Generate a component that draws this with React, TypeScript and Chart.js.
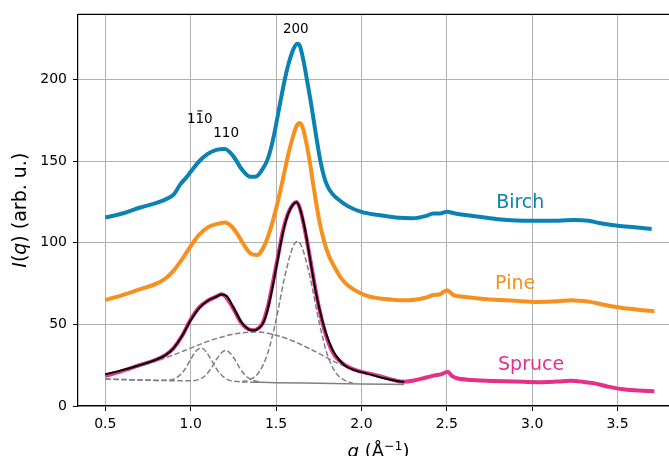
import { useEffect, useRef } from "react";
import { Chart, registerables } from "chart.js";

Chart.register(...registerables);

const FONT = "'DejaVu Sans', sans-serif";

const BIRCH_Q = [0.5, 0.6, 0.7, 0.8, 0.85, 0.9, 0.94, 0.97, 1.0, 1.05, 1.1, 1.15, 1.2, 1.25, 1.3, 1.35, 1.38, 1.42, 1.45, 1.47, 1.49, 1.51, 1.53, 1.55, 1.57, 1.59, 1.61, 1.625, 1.64, 1.66, 1.68, 1.7, 1.72, 1.74, 1.76, 1.78, 1.8, 1.83, 1.86, 1.92, 2.0, 2.1, 2.2, 2.3, 2.38, 2.42, 2.46, 2.5, 2.55, 2.65, 2.8, 3.0, 3.1, 3.25, 3.33, 3.4, 3.5, 3.6, 3.7];
const BIRCH_I = [115.5, 118, 121.5, 124.5, 126.5, 129.5, 136, 139.5, 143.5, 150, 154.5, 157, 157.5, 153, 145, 140.5, 140.5, 145, 151, 158, 167, 178, 189, 199.5, 208.5, 215.5, 220.5, 222, 220.5, 212, 200.5, 188.5, 175.5, 162, 150, 141, 135, 130, 127, 122.5, 119, 117, 115.5, 115, 116.5, 118, 118, 119, 118, 116.5, 114.5, 113.5, 113.5, 114, 113.5, 112, 110.5, 109.5, 108.5];

const PINE_Q = [0.5, 0.6, 0.7, 0.8, 0.85, 0.9, 0.95, 1.0, 1.05, 1.1, 1.15, 1.2, 1.23, 1.27, 1.31, 1.35, 1.39, 1.42, 1.45, 1.48, 1.51, 1.54, 1.57, 1.6, 1.62, 1.637, 1.655, 1.676, 1.7, 1.716, 1.735, 1.755, 1.784, 1.81, 1.843, 1.88, 1.92, 2.02, 2.1, 2.2, 2.245, 2.3, 2.38, 2.42, 2.46, 2.5, 2.54, 2.6, 2.735, 2.9, 3.03, 3.15, 3.225, 3.3, 3.34, 3.42, 3.52, 3.62, 3.716];
const PINE_I = [65, 68, 71.5, 75, 78, 83, 90, 98, 105, 109.5, 111.5, 112.5, 111, 106, 99, 93.5, 92.5, 96, 103, 113, 125, 139, 153.5, 165.5, 171.5, 173.4, 171, 162, 148, 137, 124.5, 112.5, 100, 92, 85, 78.5, 74, 68, 66, 65, 64.8, 65, 66.5, 68, 68.5, 71, 68, 67, 65.4, 64.5, 63.8, 64.2, 64.8, 64.3, 63.8, 62, 60.2, 59, 58.1];

const SPRUCE_Q = [0.5, 0.6, 0.7, 0.8, 0.85, 0.9, 0.95, 1.0, 1.05, 1.1, 1.15, 1.18, 1.2, 1.245, 1.3, 1.34, 1.37, 1.4, 1.42, 1.45, 1.48, 1.51, 1.54, 1.57, 1.6, 1.62, 1.64, 1.666, 1.7, 1.725, 1.75, 1.784, 1.81, 1.843, 1.88, 1.92, 1.98, 2.04, 2.1, 2.17, 2.245, 2.3, 2.38, 2.44, 2.47, 2.505, 2.53, 2.56, 2.65, 2.735, 2.9, 3.03, 3.15, 3.225, 3.3, 3.36, 3.44, 3.52, 3.62, 3.716];
const SPRUCE_I = [18.5, 21.5, 25, 28.5, 31, 35.5, 43, 53, 60.5, 64.5, 67, 68.5, 67.5, 60.6, 50.4, 47, 46.5, 48, 50.4, 60, 74.8, 91, 107.3, 118, 123.6, 125, 121, 109.3, 90, 74.8, 61, 46.3, 38, 31, 27, 24, 21.5, 20, 18.5, 16.5, 14.8, 15.5, 17.5, 19, 19.5, 21, 18.5, 17, 16, 15.4, 15, 14.6, 15, 15.4, 14.8, 14, 12, 10.4, 9.5, 9];

const FIT_Q = [0.5, 0.6, 0.7, 0.8, 0.85, 0.9, 0.95, 1.0, 1.05, 1.1, 1.15, 1.18, 1.21, 1.25, 1.3, 1.34, 1.37, 1.4, 1.43, 1.46, 1.5, 1.54, 1.57, 1.6, 1.62, 1.64, 1.67, 1.7, 1.73, 1.76, 1.79, 1.82, 1.85, 1.9, 1.96, 2.04, 2.12, 2.2, 2.25];
const FIT_I = [19.5, 22, 25, 28.5, 31, 35.5, 43, 52.5, 60, 64.5, 67, 68.3, 67.5, 60.5, 51, 47, 46.3, 47.8, 52, 63, 84, 106, 117.5, 123.5, 124.8, 121, 108, 89.5, 71.5, 57, 45.5, 37, 31, 25, 22, 19.7, 17.3, 15.5, 14.7];

const BROAD_Q = [0.5, 0.6, 0.7, 0.8, 0.9, 1.0, 1.1, 1.2, 1.3, 1.4, 1.5, 1.6, 1.7, 1.8, 1.84, 1.9, 2.0, 2.1, 2.2, 2.25];
const BROAD_I = [19.4, 21.5, 24.3, 27.6, 31.3, 35.5, 39.6, 42.8, 44.9, 45.3, 43.4, 39.8, 34.9, 29.5, 27.2, 24.5, 21, 18.5, 16.3, 15.6];

const PEAK1_Q = [0.5, 0.8, 0.88, 0.92, 0.96, 1.0, 1.03, 1.06, 1.09, 1.12, 1.16, 1.2, 1.24, 1.28, 1.4];
const PEAK1_I = [16.5, 15.7, 16, 17.5, 21.6, 28.6, 33.5, 35.6, 33.4, 28.4, 21.4, 17.2, 15.4, 14.9, 14.5];

const PEAK2_Q = [0.5, 0.9, 1.0, 1.04, 1.08, 1.12, 1.15, 1.18, 1.205, 1.23, 1.26, 1.29, 1.33, 1.37, 1.4];
const PEAK2_I = [16.5, 15.5, 15.4, 16, 18.1, 23.1, 28.4, 32.6, 34, 32.5, 28.2, 22.8, 17.8, 15.5, 14.9];

const PEAK3_Q = [1.3, 1.35, 1.4, 1.45, 1.5, 1.55, 1.6, 1.625, 1.65, 1.7, 1.75, 1.8, 1.85, 1.9, 1.95];
const PEAK3_I = [14.9, 16.3, 20.7, 32, 52.7, 78.8, 97.9, 100.8, 97.8, 78.6, 52.4, 31.6, 20.4, 15.9, 13.9];

const BASE_Q = [1.37, 1.5, 1.75, 2.0, 2.25];
const BASE_I = [14.6, 14.3, 13.9, 13.5, 13.2];

const X_TICKS = [0.5, 1.0, 1.5, 2.0, 2.5, 3.0, 3.5];
const Y_TICKS = [0, 50, 100, 150, 200];

const SERIES_NAMES = ["Birch", "Pine", "Spruce"];
const SERIES_COLORS = ["#0a83b4", "#f7901e", "#e5308a"];
const NAME_Q = [2.789, 2.783, 2.8];
const NAME_I = [121.5, 72, 22];

// Miller index labels; BAR_AT marks which character carries an overbar (-1 = none)
const PEAK_TEXT = ["200", "110", "110"];
const PEAK_BAR_AT = [-1, 1, -1];
const PEAK_TEXT_Q = [1.54, 0.978, 1.132];
const PEAK_TEXT_I = [228.6, 173.5, 164.8];

const pts = (qs: number[], is: number[]) => qs.map((q, i) => ({ x: q, y: is[i] }));

type Run = { t: string; font: string; dy?: number };

function drawRuns(ctx: CanvasRenderingContext2D, runs: Run[], cx: number, y: number) {
  let total = 0;
  const widths = runs.map((r) => {
    ctx.font = r.font;
    const w = ctx.measureText(r.t).width;
    total += w;
    return w;
  });
  let x = cx - total / 2;
  ctx.textAlign = "left";
  ctx.textBaseline = "alphabetic";
  runs.forEach((r, i) => {
    ctx.font = r.font;
    ctx.fillText(r.t, x, y + (r.dy || 0));
    x += widths[i];
  });
}

const textPlugin = {
  id: "texts",
  afterDraw(chart: any) {
    const { ctx, chartArea: a, scales } = chart;
    const xs = scales.x;
    const ys = scales.y;
    ctx.save();
    ctx.strokeStyle = "#000";
    ctx.lineWidth = 1.25;
    ctx.beginPath();
    ctx.moveTo(a.left, a.top);
    ctx.lineTo(a.right, a.top);
    ctx.stroke();

    ctx.fillStyle = "#000";
    const n = `18px ${FONT}`;
    const it = `italic 18px ${FONT}`;
    drawRuns(
      ctx,
      [
        { t: "q", font: it },
        { t: " (Å", font: n },
        { t: "\u22121", font: `12.5px ${FONT}`, dy: -7 },
        { t: ")", font: n },
      ],
      (a.left + a.right) / 2,
      457
    );
    const ny = `19px ${FONT}`;
    const iy = `italic 19px ${FONT}`;
    ctx.save();
    ctx.translate(26, (a.top + a.bottom) / 2);
    ctx.rotate(-Math.PI / 2);
    drawRuns(
      ctx,
      [
        { t: "I", font: iy },
        { t: "(", font: ny },
        { t: "q", font: iy },
        { t: ") (arb. u.)", font: ny },
      ],
      0,
      0
    );
    ctx.restore();

    ctx.textAlign = "left";
    ctx.textBaseline = "alphabetic";
    SERIES_NAMES.forEach((name, i) => {
      ctx.font = `19px ${FONT}`;
      ctx.fillStyle = SERIES_COLORS[i];
      ctx.fillText(name, xs.getPixelForValue(NAME_Q[i]), ys.getPixelForValue(NAME_I[i]));
    });
    ctx.fillStyle = "#000";
    ctx.strokeStyle = "#000";
    PEAK_TEXT.forEach((t, i) => {
      ctx.font = `13.5px ${FONT}`;
      const px = xs.getPixelForValue(PEAK_TEXT_Q[i]);
      const py = ys.getPixelForValue(PEAK_TEXT_I[i]);
      ctx.fillText(t, px, py);
      const b = PEAK_BAR_AT[i];
      if (b >= 0) {
        const x0 = px + ctx.measureText(t.slice(0, b)).width;
        const w = ctx.measureText(t[b]).width;
        ctx.lineWidth = 1.1;
        ctx.beginPath();
        ctx.moveTo(x0 + w * 0.22, py - 12);
        ctx.lineTo(x0 + w * 0.8, py - 12);
        ctx.stroke();
      }
    });
    ctx.restore();
  },
};

export default function App() {
  const ref = useRef<HTMLCanvasElement>(null);
  useEffect(() => {
    if (!ref.current) return;
    const dashed = (qs: number[], is: number[]) => ({
      data: pts(qs, is),
      borderColor: "#808080",
      borderWidth: 1.5,
      borderDash: [5.5, 2.5],
      pointRadius: 0,
      fill: false,
      cubicInterpolationMode: "monotone" as const,
      order: 1,
    });
    const curve = (qs: number[], is: number[], color: string, w: number, order: number) => ({
      data: pts(qs, is),
      borderColor: color,
      borderWidth: w,
      pointRadius: 0,
      fill: false,
      cubicInterpolationMode: "monotone" as const,
      order,
    });
    const grid = {
      color: "#b0b0b0",
      lineWidth: 1,
      tickColor: "#000",
      tickLength: 5,
      tickWidth: 1,
    };
    const chart = new Chart(ref.current, {
      type: "line",
      data: {
        datasets: [
          curve(FIT_Q, FIT_I, "#000", 2, 0),
          dashed(BROAD_Q, BROAD_I),
          dashed(PEAK1_Q, PEAK1_I),
          dashed(PEAK2_Q, PEAK2_I),
          dashed(PEAK3_Q, PEAK3_I),
          curve(BASE_Q, BASE_I, "#808080", 1.5, 2),
          curve(SPRUCE_Q, SPRUCE_I, SERIES_COLORS[2], 4, 3),
          curve(PINE_Q, PINE_I, SERIES_COLORS[1], 4, 4),
          curve(BIRCH_Q, BIRCH_I, SERIES_COLORS[0], 4, 5),
        ] as any,
      },
      options: {
        animation: false,
        responsive: false,
        devicePixelRatio: 1,
        layout: { padding: { left: 0, top: 13, right: 11, bottom: 0 } },
        plugins: { legend: { display: false }, tooltip: { enabled: false } },
        scales: {
          x: {
            type: "linear",
            min: 0.34,
            max: 3.86,
            afterBuildTicks: (s: any) => {
              s.ticks = X_TICKS.map((v) => ({ value: v }));
            },
            afterFit: (s: any) => {
              s.height = 64;
            },
            ticks: {
              callback: (v: any) => Number(v).toFixed(1),
              font: { family: FONT, size: 14 },
              color: "#000",
              padding: 5,
              maxRotation: 0,
              autoSkip: false,
            },
            grid,
            border: { color: "#000", width: 1.25 },
          },
          y: {
            type: "linear",
            min: 0,
            max: 240,
            afterBuildTicks: (s: any) => {
              s.ticks = Y_TICKS.map((v) => ({ value: v }));
            },
            afterFit: (s: any) => {
              s.width = 78;
            },
            ticks: {
              font: { family: FONT, size: 14 },
              color: "#000",
              padding: 6,
            },
            grid,
            border: { color: "#000", width: 1.25 },
          },
        },
      },
      plugins: [textPlugin],
    });
    return () => chart.destroy();
  }, []);
  return (
    <div style={{ position: "fixed", left: 0, top: 0, width: 669, height: 456, overflow: "hidden", background: "#fff" }}>
      <canvas ref={ref} width={690} height={470} style={{ width: 690, height: 470, display: "block" }} />
    </div>
  );
}
